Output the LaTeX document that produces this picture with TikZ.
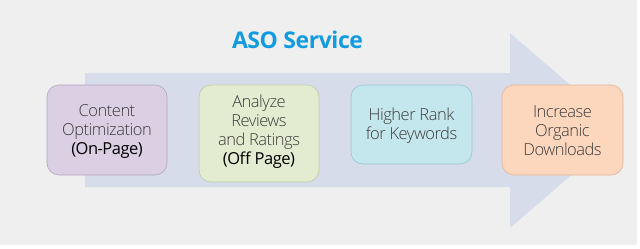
\documentclass[tikz,border=0pt]{standalone}
\usepackage{fontspec}
\setmainfont{Open Sans}
\newfontfamily\lightfont{Open Sans Light}
\newfontfamily\titlefont{Open Sans}
\definecolor{bggray}{RGB}{239,239,239}
\definecolor{arrowc}{RGB}{214,220,233}
\definecolor{titleblue}{RGB}{18,155,225}
\definecolor{pfill}{RGB}{219,208,227}
\definecolor{pline}{RGB}{180,165,192}
\definecolor{gfill}{RGB}{227,235,208}
\definecolor{gline}{RGB}{192,206,165}
\definecolor{bfill}{RGB}{196,230,237}
\definecolor{bline}{RGB}{150,200,210}
\definecolor{ofill}{RGB}{253,215,189}
\definecolor{oline}{RGB}{228,180,150}
\definecolor{lighttext}{RGB}{60,60,60}
\newcommand{\strongline}[1]{{\fontspec{Open Sans}\addfontfeatures{LetterSpace=-3}\textcolor{black}{#1}}}
\tikzset{
  stepbox/.style={rectangle, rounded corners=12pt, line width=0.6pt, inner sep=0pt},
  boxtext/.style={align=center, text=lighttext, font=\lightfont\fontsize{16.5}{19}\selectfont\addfontfeatures{LetterSpace=-3}},
}
\begin{document}
\begin{tikzpicture}[x=1pt,y=-1pt]
\useasboundingbox (0,0) rectangle (640,249);
\fill[white] (0,0) rectangle (640,249);
\fill[bggray] (0,0) rectangle (637,245);
% big arrow
\fill[arrowc] (85,73) -- (510,73) -- (510,33) -- (623,130.5) -- (510,228) -- (510,187) -- (85,187) -- cycle;
% title
\node[font=\titlefont\bfseries\fontsize{23}{26}\selectfont\addfontfeatures{LetterSpace=-2}, text=titleblue] (title) at (297.5,39.5) {ASO Service};
% boxes
\node[stepbox, fill=pfill, draw=pline, minimum width=120pt, minimum height=90pt] (b1) at (107,130) {};
\node[stepbox, fill=gfill, draw=gline, minimum width=120pt, minimum height=97pt] (b2) at (259,133.5) {};
\node[stepbox, fill=bfill, draw=bline, minimum width=121pt, minimum height=79pt] (b3) at (411.5,124.5) {};
\node[stepbox, fill=ofill, draw=oline, minimum width=121pt, minimum height=90pt] (b4) at (562.5,130) {};
% texts
\node[boxtext] (t1) at (107,132) {Content\\Optimization\\\strongline{(On-Page)}};
\node[boxtext] (t2) at (259,131.5) {Analyze\\Reviews\\and Ratings\\\strongline{(Off Page)}};
\node[boxtext] (t3) at (411.5,126) {Higher Rank\\for Keywords};
\node[boxtext] (t4) at (562.5,131) {Increase\\Organic\\Downloads};
\end{tikzpicture}
\end{document}
